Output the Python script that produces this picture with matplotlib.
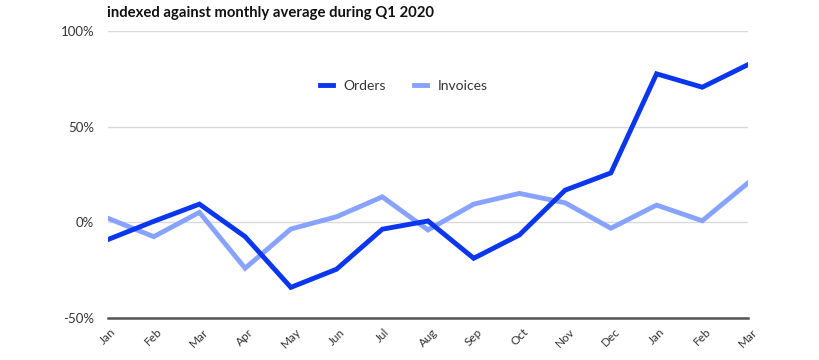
import matplotlib
matplotlib.use("Agg")
import matplotlib.pyplot as plt
from matplotlib.ticker import FuncFormatter

months = ["Jan", "Feb", "Mar", "Apr", "May", "Jun", "Jul", "Aug", "Sep", "Oct",
          "Nov", "Dec", "Jan", "Feb", "Mar"]
orders = [-9, 0.5, 9.5, -7.5, -34, -24.5, -3.6, 0.7, -18.8, -6.6, 16.8, 25.8, 77.6, 70.6, 82.4]
invoices = [2.1, -7.5, 5.2, -24, -3.5, 2.9, 13.3, -4, 9.5, 15.1, 10.2, -3.1, 9, 0.8, 20.6]
yticks = [-50, 0, 50, 100]
title = "indexed against monthly average during Q1 2020"

plt.rcParams['font.family'] = ['Lato', 'DejaVu Sans']

fig = plt.figure(figsize=(8.2, 3.6), dpi=100)
ax = fig.add_axes([0.1317, 0.1167, 0.7805, 0.7973])

x = list(range(len(months)))
ax.plot(x, invoices, color="#87a3ff", lw=3.5, label="Invoices", solid_joinstyle="miter", zorder=3)
ax.plot(x, orders, color="#0a36ee", lw=3.5, label="Orders", solid_joinstyle="miter", zorder=4)

ax.set_xlim(0, len(months) - 1)
ax.set_ylim(-50, 100)
ax.set_yticks(yticks)
ax.yaxis.set_major_formatter(FuncFormatter(lambda v, p: f"{int(v)}%"))
ax.set_xticks(x)
ax.set_xticklabels(months, rotation=45, ha="center", fontsize=8.5, color="#333333")
ax.tick_params(axis="y", length=0, pad=10, labelsize=9.5, labelcolor="#333333")
ax.tick_params(axis="x", length=0, pad=6)
ax.grid(axis="y", color="#d9d9d9", lw=1)
ax.set_axisbelow(True)
for s in ["top", "right", "left"]:
    ax.spines[s].set_visible(False)
ax.spines["bottom"].set_color("#555555")
ax.spines["bottom"].set_linewidth(1.8)
ax.spines["bottom"].set_zorder(5)

h, l = ax.get_legend_handles_labels()
leg = ax.legend([h[1], h[0]], [l[1], l[0]], ncol=2, frameon=False,
                loc="center", bbox_to_anchor=(0.4625, 0.808), fontsize=10,
                handlelength=0.9, handletextpad=0.8, columnspacing=2.0)
for t in leg.get_texts():
    t.set_color("#333333")

fig.text(0.1305, 0.965, title, fontsize=10.7, fontweight="bold", color="#111111",
         ha="left", va="center")

fig.savefig("out.png", dpi=100)
